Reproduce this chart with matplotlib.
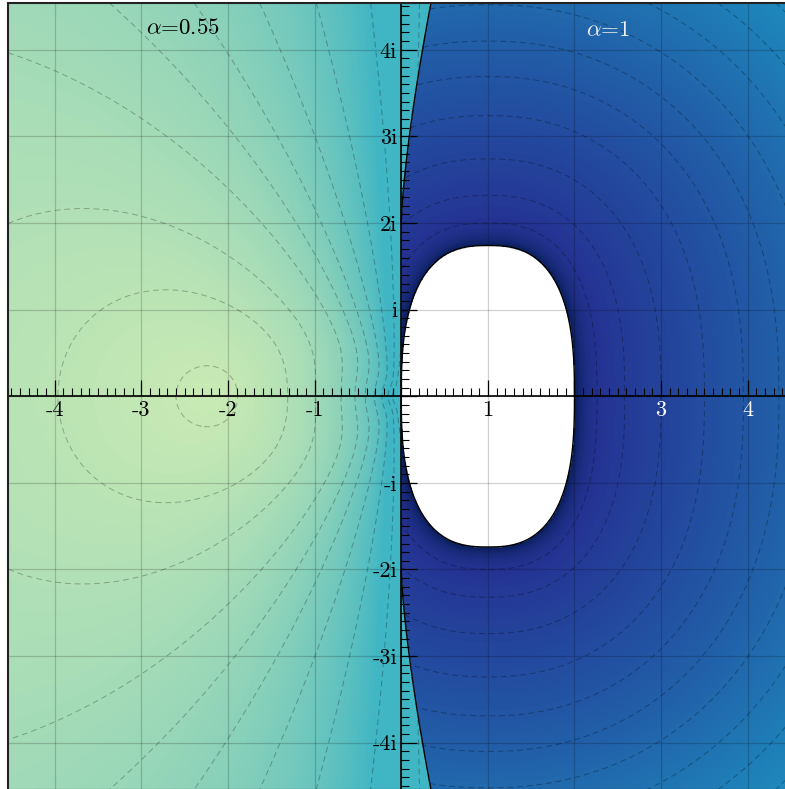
import numpy as np
import matplotlib
matplotlib.use("Agg")
import matplotlib.pyplot as plt
from matplotlib.patches import Rectangle
from matplotlib.ticker import MultipleLocator

plt.rcParams['font.family'] = ['cmr10', 'DejaVu Serif']
plt.rcParams['mathtext.fontset'] = 'cm'
plt.rcParams['axes.formatter.use_mathtext'] = True

# window of the complex plane
x_lim = [-4.54, 4.54]
y_lim = [-4.54, 4.54]

# axis labels
x_tick_pos = [-4, -3, -2, -1, 0, 1, 2, 3, 4]
x_tick_lab = ['-4', '-3', '-2', '-1', '', '1', '', '3', '4']
x_tick_col = ['k', 'k', 'k', 'k', 'k', 'k', 'k', 'w', 'w']
y_tick_pos = [-4, -3, -2, -1, 0, 1, 2, 3, 4]
y_tick_lab = ['-4i', '-3i', '-2i', '-i', '', 'i', '2i', '3i', '4i']

titles = [r'$\alpha$=0.55', r'$\alpha$=1']
title_x = [-2.52, 2.39]
title_y = [4.25, 4.23]
title_col = ['k', '#f0f0f0']

# alpha = 0.55 half (left): peak on the negative axis, bending of the field
peak_left = 2.21
bend_left = 0.55
skew_left = 0.10
levels_left = [0.16, 0.55, 0.87, 1.29, 1.62, 1.95, 2.35, 2.82, 3.39, 4.0]
shade_left = [0.24, 0.055, 0.12, 0.7, 0.50]   # base, slope, edge, edge width, cap

# alpha = 1 half (right): unstable blob and distance levels
blob_c = 1.0
blob_w = 1.0
blob_h = 1.74
blob_p = 2.65
levels_right = [0.26, 0.58, 1.0, 1.5, 1.95, 2.36, 2.78, 3.2, 3.62, 4.04, 4.46]
shade_right = [0.89, 0.06, 0.11, 0.10]  # base, slope, spike, spike width

# dividing curve between the halves: x = c * (|y| - y0)^k
split_c, split_y0, split_k = 0.093, 2.0, 1.4


def split_x(y):
    return split_c * np.clip(np.abs(y) - split_y0, 0, None) ** split_k


# grid
n = 700
xs = np.linspace(x_lim[0], x_lim[1], n)
ys = np.linspace(y_lim[0], y_lim[1], n)
X, Y = np.meshgrid(xs, ys)

# left field
r = np.hypot(X, Y) + 1e-9
s = np.log(r / peak_left)
s = s - skew_left * s ** 2
phi = np.arctan2(np.abs(Y), -X)
g = phi + bend_left * phi ** 3
F = np.sqrt(s ** 2 + g ** 2)
v_left = shade_left[0] + shade_left[1] * F + shade_left[2] * np.exp(X / shade_left[3])
v_left = np.minimum(v_left, shade_left[4])

# right field: distance to the blob
t = np.linspace(0, 2 * np.pi, 1441)
bx = blob_c + blob_w * np.sign(np.cos(t)) * np.abs(np.cos(t)) ** (2 / blob_p)
by = blob_h * np.sign(np.sin(t)) * np.abs(np.sin(t)) ** (2 / blob_p)
D = np.empty_like(X)
for i in range(0, n, 35):
    dx = X[i:i + 35, :, None] - bx[None, None, :]
    dy = Y[i:i + 35, :, None] - by[None, None, :]
    D[i:i + 35] = np.sqrt(dx ** 2 + dy ** 2).min(axis=2)
inside = (np.abs(X - blob_c) / blob_w) ** blob_p + (np.abs(Y) / blob_h) ** blob_p < 1
v_right = shade_right[0] - shade_right[1] * D + shade_right[2] * np.exp(-D / shade_right[3])

right = X > split_x(Y)
V = np.where(right, v_right, v_left)
V = np.ma.masked_where(right & inside, V)

fig = plt.figure(figsize=(7.85, 7.89), dpi=100)
ax = fig.add_axes([8 / 785, -0.5 / 789, 786.5 / 785, 786.5 / 789])

cmap = plt.get_cmap('YlGnBu').copy()
cmap.set_bad('white')
ax.imshow(V, origin='lower', extent=[x_lim[0], x_lim[1], y_lim[0], y_lim[1]],
          cmap=cmap, vmin=0, vmax=1, interpolation='bilinear', zorder=0)

FL = np.ma.masked_where(right, F)
ax.contour(X, Y, FL, levels=levels_left, colors='k', alpha=0.28,
           linewidths=0.7, linestyles=[(0, (6, 4))], zorder=1)
DR = np.ma.masked_where(~right | inside, D)
ax.contour(X, Y, DR, levels=levels_right, colors='k', alpha=0.3,
           linewidths=0.7, linestyles=[(0, (6, 4))], zorder=1)

# outlines
ax.plot(bx, by, color='k', lw=1.0, zorder=3)
yy = np.linspace(split_y0, 4.7, 200)
ax.plot(split_x(yy), yy, color='k', lw=1.0, zorder=3)
ax.plot(split_x(-yy), -yy, color='k', lw=1.0, zorder=3)

ax.set_xlim(x_lim)
ax.set_ylim(y_lim)
ax.set_aspect('auto')

ax.spines['left'].set_position(('data', 0))
ax.spines['bottom'].set_position(('data', 0))
ax.spines['top'].set_visible(False)
ax.spines['right'].set_visible(False)
for sp in ['left', 'bottom']:
    ax.spines[sp].set_linewidth(1.2)
    ax.spines[sp].set_zorder(4)

ax.set_xticks(x_tick_pos)
ax.set_xticklabels(x_tick_lab)
ax.set_yticks(y_tick_pos)
ax.set_yticklabels(y_tick_lab)
ax.xaxis.set_minor_locator(MultipleLocator(0.1))
ax.yaxis.set_minor_locator(MultipleLocator(0.1))
ax.tick_params(which='major', direction='in', length=11.5, width=0.9,
               labelsize=16, pad=3)
ax.tick_params(which='minor', direction='in', length=5.8, width=0.8)
for lab, c in zip(ax.get_xticklabels(), x_tick_col):
    lab.set_color(c)

ax.grid(which='major', color='k', alpha=0.18, lw=0.9)

for txt, tx, ty, c in zip(titles, title_x, title_y, title_col):
    ax.text(tx, ty, txt, ha='center', va='center', fontsize=16.5, color=c, zorder=5)

ax.add_patch(Rectangle((0, 0), 1, 1, transform=ax.transAxes, fill=False,
                       lw=1.5, edgecolor='#222222', zorder=6, clip_on=False))

fig.savefig('out.png', dpi=100)
